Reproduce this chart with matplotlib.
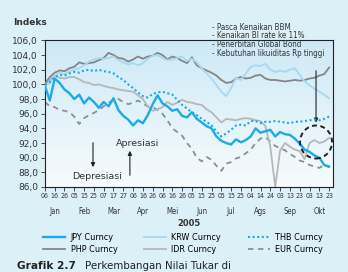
import matplotlib
matplotlib.use("Agg")
import matplotlib.pyplot as plt
from matplotlib.colors import LinearSegmentedColormap
from matplotlib.patches import Ellipse
from matplotlib.lines import Line2D
import numpy as np

# index values, one every half tick (about 5 trading days)
jpy = [99.8, 97.8, 100.8, 100.2, 99.3, 98.8, 98.0, 98.6, 97.4, 98.2,
       97.6, 96.8, 97.6, 97.0, 98.1, 96.5, 95.7, 95.2, 94.4, 95.1,
       94.7, 95.8, 97.3, 98.5, 97.4, 97.0, 96.4, 96.6, 95.7, 95.5,
       96.2, 95.3, 94.8, 94.3, 94.0, 92.9, 92.3, 92.0, 91.8, 92.5,
       92.1, 92.4, 92.9, 94.0, 93.4, 93.6, 93.8, 92.9, 93.5, 93.2,
       93.1, 92.6, 91.9, 91.1, 90.8, 90.3, 90.0, 89.0, 88.8]
krw = [99.7, 100.2, 101.2, 101.6, 101.4, 101.8, 102.0, 102.2, 102.6, 103.1,
       103.4, 103.6, 103.5, 103.6, 103.8, 103.3, 103.0, 102.7, 102.9, 102.6,
       102.9, 103.5, 103.9, 104.0, 103.6, 103.3, 103.4, 103.6, 103.8, 103.2,
       103.5, 103.0, 102.2, 101.5, 100.8, 99.9, 99.0, 98.4, 99.5, 100.9,
       100.6, 101.5, 102.4, 102.6, 102.5, 102.8, 102.0, 101.7, 101.9, 101.7,
       102.0, 102.2, 101.3, 100.4, 99.9, 99.4, 99.0, 98.6, 98.1]
thb = [100.0, 100.3, 101.0, 101.3, 101.2, 101.5, 101.7, 101.6, 101.9, 102.0,
       101.8, 102.0, 101.8, 101.7, 101.5, 101.0, 100.6, 100.0, 99.5, 98.9,
       98.4, 98.2, 98.7, 98.9, 99.0, 98.8, 98.6, 97.9, 97.2, 96.7,
       96.2, 95.8, 95.3, 94.9, 94.4, 93.6, 92.9, 93.3, 93.8, 94.4,
       94.5, 94.4, 95.0, 95.0, 94.7, 94.9, 94.9, 95.0, 94.9, 94.8,
       94.7, 94.9, 94.9, 95.0, 95.1, 95.2, 95.1, 95.3, 95.6]
php = [100.1, 101.0, 101.6, 101.9, 101.8, 102.2, 102.4, 103.0, 102.8, 102.9,
       103.0, 103.3, 103.6, 104.3, 104.0, 103.6, 103.5, 103.1, 103.4, 103.8,
       103.5, 103.8, 103.9, 104.3, 104.0, 103.4, 103.8, 103.6, 103.2, 102.9,
       103.7, 102.6, 102.2, 101.9, 101.6, 101.2, 100.6, 100.2, 100.3, 100.8,
       101.0, 100.8, 100.9, 101.2, 101.3, 100.8, 100.6, 100.6, 100.5, 100.4,
       100.5, 100.6, 100.5, 100.6, 100.8, 100.9, 101.2, 101.4, 102.3]
idr = [100.0, 100.6, 101.2, 100.9, 100.8, 101.0, 101.0, 100.7, 100.3, 100.2,
       99.9, 100.0, 99.8, 99.6, 99.5, 99.3, 99.2, 99.1, 99.0, 98.5,
       98.0, 97.0, 96.4, 96.6, 96.9, 97.6, 97.2, 97.5, 97.9, 97.6,
       97.5, 97.3, 97.2, 96.6, 96.2, 95.5, 94.8, 95.3, 95.2, 95.1,
       95.3, 95.4, 95.3, 95.1, 95.0, 94.3, 91.5, 86.0, 91.0, 92.0,
       91.5, 91.1, 90.9, 89.8, 92.0, 92.4, 92.0, 92.2, 92.7]
eur = [97.6, 97.0, 96.9, 96.5, 96.4, 96.2, 95.6, 94.6, 95.4, 95.8,
       96.1, 96.5, 97.0, 97.5, 97.9, 98.0, 97.6, 97.3, 97.5, 97.8,
       97.4, 97.0, 96.9, 96.5, 96.0, 95.1, 94.0, 93.5, 93.0, 92.0,
       91.2, 90.0, 89.5, 90.1, 89.7, 88.9, 88.2, 89.2, 89.4, 89.9,
       90.1, 90.6, 91.1, 92.0, 92.6, 92.8, 92.2, 91.6, 91.3, 91.0,
       90.5, 90.1, 89.6, 89.4, 89.0, 88.8, 88.6, 89.0, 88.7]

day_labels = ["06", "16", "26", "05", "15", "25", "07", "17", "27", "06",
              "16", "26", "06", "16", "26", "05", "15", "25", "05", "15",
              "25", "04", "14", "24", "03", "13", "23", "03", "13", "23"]
months = ["Jan", "Feb", "Mar", "Apr", "Mei", "Jun", "Jul", "Ags", "Sep", "Okt"]
notes = ["- Pasca Kenaikan BBM", "- Kenaikan BI rate ke 11%",
         "- Penerbitan Global Bond", "- Kebutuhan likuiditas Rp tinggi"]

blue = "#1aace6"
light_blue = "#a5d9f1"
dark_gray = "#858585"
light_gray = "#b7b7b7"
mid_gray = "#8e8e8e"
bg = "#dcf0f7"
txt = "#333333"

x = np.arange(len(jpy)) * 0.5

fig = plt.figure(figsize=(3.48, 2.72), dpi=100, facecolor=bg)
ax = fig.add_axes([0.129, 0.3125, 0.828, 0.539])

cmap = LinearSegmentedColormap.from_list("bgfade", ["#cde9f6", "#f7fbfd"])
ax.imshow(np.linspace(0, 1, 256).reshape(-1, 1), cmap=cmap, extent=[0, 1, 0, 1],
          transform=ax.transAxes, aspect="auto", zorder=0)

ax.plot(x, eur, color=mid_gray, lw=1.3, ls=(0, (3, 2.5)), zorder=2)
ax.plot(x, idr, color=light_gray, lw=1.3, zorder=2)
ax.plot(x, php, color=dark_gray, lw=1.3, zorder=3)
ax.plot(x, krw, color=light_blue, lw=1.3, zorder=3)
ax.plot(x, thb, color=blue, lw=1.5, ls=(0, (1, 1.2)), zorder=4)
ax.plot(x, jpy, color=blue, lw=1.7, zorder=5)

ax.set_xlim(0, 29.4)
ax.set_ylim(86, 106)
ax.set_xticks(np.arange(len(day_labels)))
ax.set_xticklabels(day_labels, fontsize=5, fontstretch="condensed")
yt = np.arange(86, 106.1, 2)
ax.set_yticks(yt)
ax.set_yticklabels([f"{v:.1f}".replace(".", ",") for v in yt], fontsize=6.5)
ax.tick_params(axis="x", length=3, width=0.6, pad=1.5, colors=txt)
ax.tick_params(axis="y", length=3, width=0.6, pad=2, colors=txt)
for s in ax.spines.values():
    s.set_linewidth(0.8)
    s.set_color("#222222")

for i, m in enumerate(months):
    ax.text(3 * i + 1, -0.165, m, transform=ax.get_xaxis_transform(),
            ha="center", va="center", fontsize=5.6, color=txt, fontstretch="condensed")
ax.text(0.5, -0.25, "2005", transform=ax.transAxes, ha="center", va="center",
        fontsize=6, fontweight="bold", color=txt)

fig.text(0.037, 0.918, "Indeks", fontsize=6.5, fontweight="bold", color=txt,
         va="center")

for i, t in enumerate(notes):
    fig.text(0.61, 0.90 - i * 0.032, t, fontsize=5.8, color=txt,
             va="center", fontstretch="condensed")

# arrows
ax.annotate("", xy=(0.167, 0.116), xytext=(0.167, 0.321), xycoords="axes fraction",
            arrowprops=dict(arrowstyle="-|>", color="#222222", lw=0.8,
                            mutation_scale=6))
ax.annotate("", xy=(0.295, 0.266), xytext=(0.295, 0.061), xycoords="axes fraction",
            arrowprops=dict(arrowstyle="-|>", color="#222222", lw=0.8,
                            mutation_scale=6))
ax.text(0.18, 0.075, "Depresiasi", transform=ax.transAxes, ha="center", va="center",
        fontsize=6.8, color=txt)
ax.text(0.323, 0.30, "Apresiasi", transform=ax.transAxes, ha="center", va="center",
        fontsize=6.8, color=txt)
ax.annotate("", xy=(0.941, 0.42), xytext=(0.941, 0.812), xycoords="axes fraction",
            arrowprops=dict(arrowstyle="-|>", color="#222222", lw=0.8,
                            mutation_scale=6))
ax.add_patch(Ellipse((0.941, 0.307), 0.111, 0.225, transform=ax.transAxes,
                     fill=False, ec="#222222", lw=1.4, ls=(0, (2.5, 1.8)),
                     clip_on=False, zorder=6))

handles = [Line2D([], [], color=blue, lw=1.7),
           Line2D([], [], color=dark_gray, lw=1.3),
           Line2D([], [], color=light_blue, lw=1.3),
           Line2D([], [], color=light_gray, lw=1.3),
           Line2D([], [], color=blue, lw=1.5, ls=(0, (1, 1.2))),
           Line2D([], [], color=mid_gray, lw=1.3, ls=(0, (3, 2.5)))]
labels = ["JPY Curncy", "PHP Curncy", "KRW Curncy", "IDR Curncy",
          "THB Curncy", "EUR Curncy"]
fig.legend(handles, labels, ncol=3, loc="upper left", bbox_to_anchor=(0.112, 0.16),
           frameon=False, handlelength=2.4, handletextpad=0.6,
           columnspacing=3.0, labelspacing=0.3, borderpad=0,
           prop={"family": "DejaVu Sans", "stretch": "condensed", "size": 6.5})

# caption sits at the bottom edge, as in the source page crop
fig.text(0.05, 0.012, "Grafik 2.7", fontsize=7.6, fontweight="bold", color="#222222",
         va="baseline")
fig.text(0.243, 0.012, "Perkembangan Nilai Tukar di", fontsize=7.4, color="#222222",
         va="baseline")

fig.savefig("out.png", dpi=100, facecolor=bg)
